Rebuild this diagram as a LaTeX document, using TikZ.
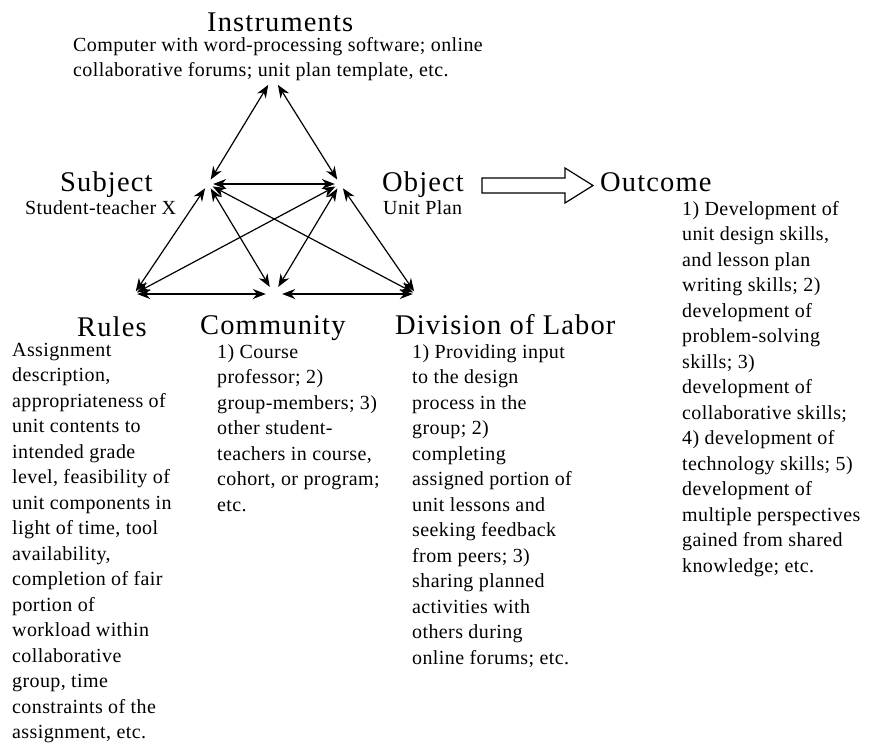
\documentclass[tikz,border=0pt]{standalone}
\usepackage{fontspec}
\setmainfont{Liberation Serif}
\newfontfamily\headfont[LetterSpace=4]{Liberation Serif}
\newfontfamily\bodyfont[LetterSpace=2]{Liberation Serif}
\usetikzlibrary{arrows.meta}
% stacked left-aligned lines; the block's baseline is that of its first line
\newcommand\stackedlines[1]{\vtop{\baselineskip=25.5pt\lineskiplimit=-100pt\lineskip=0pt\halign{##\hfil\cr#1\crcr}}}
\tikzset{
  heading/.style={anchor=base west, inner sep=0pt, font=\headfont\fontsize{28.5}{28.5}\selectfont},
  body/.style={anchor=base west, inner sep=0pt, font=\bodyfont\fontsize{20}{25.5}\selectfont},
  vtx/.style={circle, inner sep=0pt, minimum size=10pt},
  link/.style={{Stealth[length=13pt,width=10pt]}-{Stealth[length=13pt,width=10pt]}, line width=1.2pt},
  bigarrow/.style={draw, line width=1.2pt, fill=white},
}
\begin{document}
\begin{tikzpicture}[x=1pt, y=-1pt]
\useasboundingbox (0,0) rectangle (869,742);

% activity system labels
\node[heading] (instT) at (207,31) {Instruments};
\node[body] (instB) at (73,51) {\stackedlines{Computer with word-processing software; online\cr collaborative forums; unit plan template, etc.}};

\node[heading] (subjT) at (60,191) {Subject};
\node[body] (subjB) at (25,214) {Student-teacher X};

\node[heading] (objT) at (382,191) {Object};
\node[body] (objB) at (383,214) {Unit Plan};

\node[heading] (outT) at (600,191) {Outcome};
\node[body] (outB) at (682,215) {\stackedlines{1) Development of\cr unit design skills,\cr and lesson plan\cr writing skills; 2)\cr development of\cr problem-solving\cr skills; 3)\cr development of\cr collaborative skills;\cr 4) development of\cr technology skills; 5)\cr development of\cr multiple perspectives\cr gained from shared\cr knowledge; etc.}};

\node[heading] (ruleT) at (77,336) {Rules};
\node[body] (ruleB) at (12,356) {\stackedlines{Assignment\cr description,\cr appropriateness of\cr unit contents to\cr intended grade\cr level, feasibility of\cr unit components in\cr light of time, tool\cr availability,\cr completion of fair\cr portion of\cr workload within\cr collaborative\cr group, time\cr constraints of the\cr assignment, etc.}};

\node[heading] (commT) at (200,334) {Community};
\node[body] (commB) at (217,358) {\stackedlines{1) Course\cr professor; 2)\cr group-members; 3)\cr other student-\cr teachers in course,\cr cohort, or program;\cr etc.}};

\node[heading] (divT) at (395,334) {Division of Labor};
\node[body] (divB) at (412,358) {\stackedlines{1) Providing input\cr to the design\cr process in the\cr group; 2)\cr completing\cr assigned portion of\cr unit lessons and\cr seeking feedback\cr from peers; 3)\cr sharing planned\cr activities with\cr others during\cr online forums; etc.}};

% triangle vertices
\node[vtx, minimum size=18pt] (T) at (273,77) {};
\node[vtx] (S) at (208,184) {};
\node[vtx] (O) at (340,184) {};
\node[vtx, minimum size=6pt] (R) at (134,294) {};
\node[vtx, minimum size=16pt] (C) at (274,294) {};
\node[vtx, minimum size=6pt] (D) at (416,294) {};

% mediating relations
\draw[link] (T) -- (S);
\draw[link] (T) -- (O);
\draw[link] (S) -- (O);
\draw[link] (S) -- (R);
\draw[link] (S) -- (C);
\draw[link] (S) -- (D);
\draw[link] (O) -- (R);
\draw[link] (O) -- (C);
\draw[link] (O) -- (D);
\draw[link] (R) -- (C);
\draw[link] (C) -- (D);

% hollow arrow from object to outcome
\draw[bigarrow] (482,178) -- (565,178) -- (565,168) -- (593,185.5) -- (565,203) -- (565,193) -- (482,193) -- cycle;
\end{tikzpicture}
\end{document}
